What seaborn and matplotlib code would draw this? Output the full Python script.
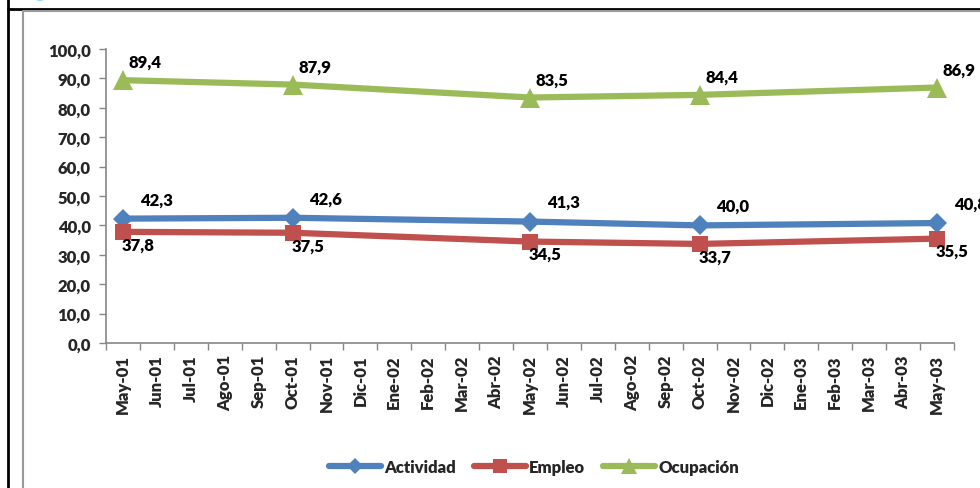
import matplotlib
matplotlib.use("Agg")
import matplotlib.pyplot as plt
import seaborn as sns
import pandas as pd
from matplotlib.lines import Line2D
from matplotlib.patches import Circle

# ---------------- data ----------------
months = ["May-01", "Jun-01", "Jul-01", "Ago-01", "Sep-01", "Oct-01", "Nov-01", "Dic-01",
          "Ene-02", "Feb-02", "Mar-02", "Abr-02", "May-02", "Jun-02", "Jul-02", "Ago-02",
          "Sep-02", "Oct-02", "Nov-02", "Dic-02", "Ene-03", "Feb-03", "Mar-03", "Abr-03", "May-03"]
obs_months = ["May-01", "Oct-01", "May-02", "Oct-02", "May-03"]
actividad = [42.3, 42.6, 41.3, 40.0, 40.8]
empleo = [37.8, 37.5, 34.5, 33.7, 35.5]
ocupacion = [89.4, 87.9, 83.5, 84.4, 86.9]
y_ticks = [0, 10, 20, 30, 40, 50, 60, 70, 80, 90, 100]

series_names = ["Actividad", "Empleo", "Ocupación"]
series_vals = [actividad, empleo, ocupacion]

# ---------------- style ----------------
sns.set_theme(style="white")
plt.rcParams["font.family"] = ["Lato", "DejaVu Sans"]
W = "heavy"
FS = 12

colors = {"Actividad": "#4F81BD", "Empleo": "#C0504D", "Ocupación": "#9BBB59"}
markers = {"Actividad": "D", "Empleo": "s", "Ocupación": "^"}
msizes = {"Actividad": 10, "Empleo": 12, "Ocupación": 15}
label_off = {"Actividad": (24, 14), "Empleo": (11, -9), "Ocupación": (16, 13)}

xpos = [months.index(m) for m in obs_months]
rows = []
for name, vals in zip(series_names, series_vals):
    for x, v, m in zip(xpos, vals, obs_months):
        rows.append({"x": x, "valor": v, "serie": name, "mes": m})
df = pd.DataFrame(rows)

fig = plt.figure(figsize=(9.8, 4.89), dpi=100)
ax = fig.add_axes([106 / 980, 1 - 344 / 489, (954 - 106) / 980, (344 - 50) / 489])

for name in series_names:
    sub = df[df.serie == name]
    sns.lineplot(data=sub, x="x", y="valor", ax=ax, color=colors[name], linewidth=4.5,
                 marker=markers[name], markersize=msizes[name], markeredgewidth=0,
                 label=name, legend=False)
    dx, dy = label_off[name]
    for x, v in zip(sub.x, sub.valor):
        ax.annotate(f"{v:.1f}".replace(".", ","), (x, v), xytext=(dx, dy),
                    textcoords="offset points", ha="center", va="center",
                    fontsize=FS, fontweight=W, color="black", annotation_clip=False)

ax.set_xlim(-0.5, len(months) - 0.5)
ax.set_ylim(0, 100)
ax.set_yticks(y_ticks)
ax.set_yticklabels([f"{t:.1f}".replace(".", ",") for t in y_ticks], fontsize=FS, fontweight=W)
ax.set_xticks(range(len(months)))
ax.set_xticklabels(months, rotation=90, fontsize=FS, fontweight=W)
ax.set_xticks([i - 0.5 for i in range(len(months) + 1)], minor=True)
ax.tick_params(axis="x", which="major", length=0, pad=8)
ax.tick_params(axis="x", which="minor", length=5, width=1, color="#868686", direction="out", bottom=True)
ax.tick_params(axis="y", which="major", length=5, width=1, color="#868686", direction="out", left=True, pad=6)
ax.set_xlabel("")
ax.set_ylabel("")
for s in ["top", "right"]:
    ax.spines[s].set_visible(False)
for s in ["left", "bottom"]:
    ax.spines[s].set_color("#868686")
    ax.spines[s].set_linewidth(1.2)

handles = [Line2D([0], [0], color=colors[n], lw=4.5, marker=markers[n],
                  markersize=msizes[n] * 0.8, markeredgewidth=0) for n in series_names]
leg = fig.legend(handles, series_names, loc="center", bbox_to_anchor=(534 / 980, 1 - 468 / 489),
                 ncol=3, frameon=False, handlelength=3.1, columnspacing=1.1, handletextpad=0.2,
                 prop={"size": FS, "weight": W})

# outer frames
fig.add_artist(Line2D([8 / 980, 8 / 980], [0, 1], transform=fig.transFigure, color="black", lw=2))
fig.add_artist(Line2D([8 / 980, 1], [1 - 10 / 489, 1 - 10 / 489], transform=fig.transFigure, color="black", lw=2))
fig.add_artist(Line2D([22.5 / 980, 1], [1 - 12 / 489, 1 - 12 / 489], transform=fig.transFigure, color="#9a9a9a", lw=1.5))
fig.add_artist(Line2D([22.5 / 980, 22.5 / 980], [0, 1 - 12 / 489], transform=fig.transFigure, color="#9a9a9a", lw=1.5))
fig.add_artist(Circle((40 / 980, 1 + 2 / 489), 6 / 980, transform=fig.transFigure, color="#5FC3F0"))

fig.savefig("out.png", dpi=100)
